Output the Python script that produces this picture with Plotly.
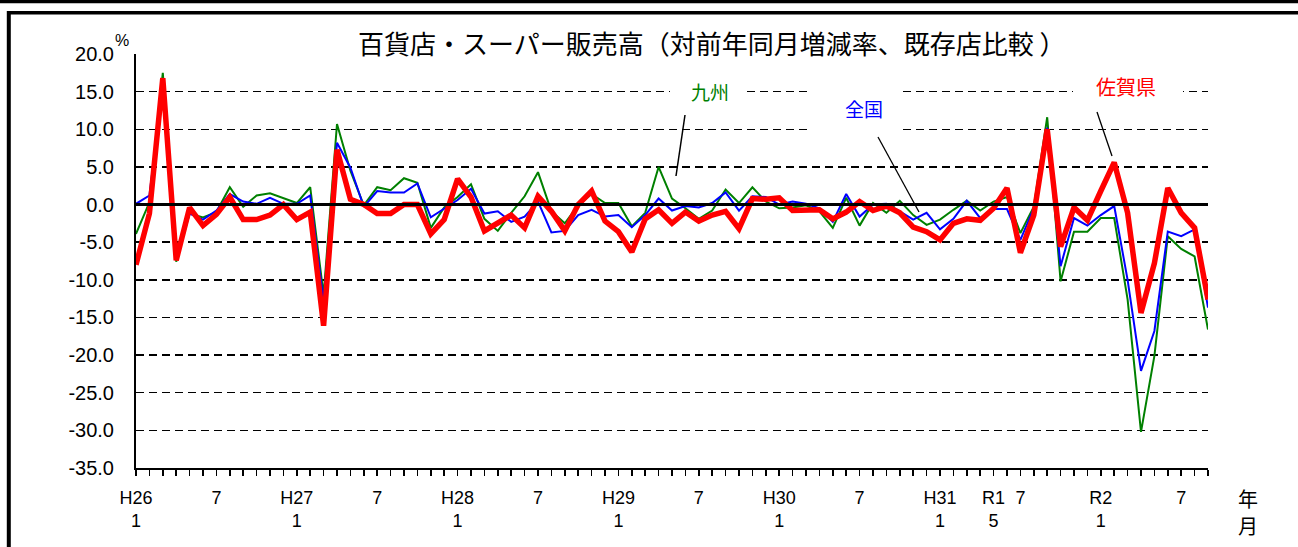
import plotly.graph_objects as go

# ---- data ----
months = list(range(81))  # Jan H26 (2014) .. Sep R2 (2020)

saga = [-8.0, -1.2, 16.8, -7.4, -0.4, -2.8, -1.3, 1.0, -2.0, -2.0, -1.4, 0.0,
        -2.0, -1.0, -16.1, 7.3, 0.7, 0.0, -1.2, -1.2, 0.0, 0.0, -3.9, -2.0,
        3.4, 1.0, -3.5, -2.5, -1.4, -3.1, 1.1, -0.9, -3.5, 0.0, 1.8, -2.2,
        -3.6, -6.3, -1.9, -0.7, -2.5, -1.0, -2.2, -1.4, -0.9, -3.2, 0.8, 0.7,
        0.9, -0.8, -0.8, -0.7, -1.9, -1.0, 0.4, -0.8, -0.2, -1.1, -3.0, -3.6,
        -4.7, -2.5, -1.9, -2.1, -0.5, 2.2, -6.4, -1.4, 10.0, -5.6, -0.4, -2.1,
        1.8, 5.6, -1.1, -14.4, -7.8, 2.2, -1.1, -3.1, -12.6]

zenkoku = [0.1, 1.2, 15.9, -6.7, -1.2, -2.0, -0.8, 1.4, 0.4, 0.1, 0.9, 0.1,
           0.1, 1.2, -12.9, 8.2, 4.9, -0.3, 1.8, 1.6, 1.6, 2.8, -1.7, -0.6,
           0.6, 2.1, -1.2, -0.9, -2.3, -1.6, 0.4, -3.7, -3.5, -1.4, -0.7, -1.6,
           -1.4, -3.0, -1.4, 0.8, -0.8, -0.2, -0.4, 0.2, 1.6, -0.8, 1.1, 1.0,
           0.0, 0.4, 0.1, -0.5, -2.3, 1.4, -1.6, 0.0, 0.1, -0.9, -2.0, -1.1,
           -3.3, -1.9, 0.5, -1.8, -0.6, -0.6, -4.7, -0.5, 10.2, -8.2, -1.8, -2.8,
           -1.4, -0.2, -10.0, -22.1, -16.8, -3.6, -4.2, -3.3, -13.7]

kyushu = [-3.9, 0.3, 17.5, -7.6, -1.2, -1.7, -1.0, 2.3, -0.3, 1.2, 1.5, 0.9,
          0.2, 2.3, -12.0, 10.7, 4.5, -0.1, 2.3, 1.9, 3.5, 2.9, -3.1, -0.4,
          1.0, 2.7, -1.9, -3.5, -1.1, 1.1, 4.3, -0.9, -2.5, -0.1, 1.4, 0.2,
          0.2, -2.9, -1.1, 5.0, 0.8, -0.5, -1.9, -0.8, 2.0, 0.2, 2.3, 0.4,
          -0.5, -0.4, -0.1, -0.9, -3.1, 0.9, -2.8, 0.2, -1.1, 0.5, -1.4, -2.7,
          -2.0, -0.7, 0.5, -0.8, 0.4, 1.0, -3.8, -0.3, 11.6, -10.2, -3.6, -3.6,
          -1.8, -1.8, -12.6, -30.2, -20.1, -4.2, -5.9, -6.9, -16.6]

x_label_pos = [0, 6, 12, 18, 24, 30, 36, 42, 48, 54, 60, 64, 66, 72, 78]
x_label_txt = ["H26<br>1", "7", "H27<br>1", "7", "H28<br>1", "7", "H29<br>1", "7",
               "H30<br>1", "7", "H31<br>1", "R1<br>5", "7", "R2<br>1", "7"]

y_ticks = [20, 15, 10, 5, 0, -5, -10, -15, -20, -25, -30, -35]
y_tick_txt = ["20.0", "15.0", "10.0", "5.0", "0.0", "-5.0", "-10.0", "-15.0",
              "-20.0", "-25.0", "-30.0", "-35.0"]

title_text = "百貨店・スーパー販売高（対前年同月増減率、既存店比較 ）"

# ---- layout geometry (pixels) ----
W, H = 1298, 547
PL, PR, PT, PB = 136, 1208, 54, 468


def px(x):
    return (x - PL) / (PR - PL)


def py(y):
    return (PB - y) / (PB - PT)


NUM_FONT = "Liberation Sans, Arial, sans-serif"
JP_FONT = "Noto Sans CJK JP, sans-serif"

fig = go.Figure()
fig.add_trace(go.Scatter(x=months, y=kyushu, mode="lines", name="九州",
                         line=dict(color="#008000", width=2)))
fig.add_trace(go.Scatter(x=months, y=zenkoku, mode="lines", name="全国",
                         line=dict(color="#0000FF", width=2)))
fig.add_trace(go.Scatter(x=months, y=saga, mode="lines", name="佐賀県",
                         line=dict(color="#FF0000", width=5.5)))

tick_text_all = []
for m in months:
    if m in x_label_pos:
        tick_text_all.append(x_label_txt[x_label_pos.index(m)])
    else:
        tick_text_all.append("")

fig.update_xaxes(range=[0, 80], tickmode="array", tickvals=months, ticktext=tick_text_all,
                 showgrid=False, zeroline=False, showline=True, linecolor="black", linewidth=2,
                 ticks="outside", ticklen=6, tickwidth=1.5, tickcolor="black",
                 tickfont=dict(family=NUM_FONT, size=18, color="black"),
                 ticklabelstandoff=6, automargin=False)
fig.update_yaxes(range=[-35, 20], tickmode="array", tickvals=y_ticks, ticktext=y_tick_txt,
                 showgrid=True, gridcolor="black", gridwidth=1.5, griddash="8px,5px",
                 zeroline=False, showline=True, linecolor="black", linewidth=2,
                 ticks="", tickfont=dict(family=NUM_FONT, size=20, color="black"),
                 ticklabelstandoff=16, automargin=False)

shapes = [
    # zero reference line
    dict(type="line", xref="x", yref="y", x0=0, x1=80, y0=0, y1=0,
         line=dict(color="black", width=3), layer="above"),
    # outer frame
    dict(type="line", xref="paper", yref="paper", x0=px(0), x1=px(W), y0=py(1.5), y1=py(1.5),
         line=dict(color="black", width=3.5)),
    dict(type="line", xref="paper", yref="paper", x0=px(7), x1=px(W), y0=py(12.7), y1=py(12.7),
         line=dict(color="black", width=3.5)),
    dict(type="line", xref="paper", yref="paper", x0=px(8.8), x1=px(8.8), y0=py(11), y1=py(H),
         line=dict(color="black", width=4)),
    # leader lines
    dict(type="line", xref="paper", yref="paper", x0=px(685), x1=px(676), y0=py(115), y1=py(176),
         line=dict(color="black", width=1.5)),
    dict(type="line", xref="paper", yref="paper", x0=px(878), x1=px(919), y0=py(137), y1=py(212),
         line=dict(color="black", width=1.3)),
    dict(type="line", xref="paper", yref="paper", x0=px(1097), x1=px(1112), y0=py(112), y1=py(156),
         line=dict(color="black", width=1.3)),
]

annotations = []


def white_box(x0, x1, y0, y1):
    annotations.append(dict(xref="paper", yref="paper", x=px((x0 + x1) / 2), y=py((y0 + y1) / 2),
                            xanchor="center", yanchor="middle", text=" ", showarrow=False,
                            width=x1 - x0, height=y1 - y0, bgcolor="white", borderpad=0,
                            borderwidth=0))


white_box(358, 1068, 28, 60)   # title
white_box(670, 745, 80, 104)   # 九州
white_box(808, 898, 84, 136)   # 全国
white_box(1073, 1183, 72, 106) # 佐賀県


def label(x, y, text, size, color, font=JP_FONT):
    annotations.append(dict(xref="paper", yref="paper", x=px(x), y=py(y), xanchor="center",
                            yanchor="middle", text=text, showarrow=False,
                            font=dict(family=font, size=size, color=color)))


label(712, 42, title_text, 26, "black")
label(710, 92, "九州", 19, "#008000")
label(864, 108, "全国", 19, "#0000FF")
label(1126, 86, "佐賀県", 20, "#FF0000")
label(122, 40, "%", 16, "black", NUM_FONT)
label(1248, 498, "年", 20, "black")
label(1248, 525, "月", 20, "black")

fig.update_layout(width=W, height=H, margin=dict(l=PL, r=W - PR, t=PT, b=H - PB, autoexpand=False),
                  paper_bgcolor="white", plot_bgcolor="white", showlegend=False,
                  shapes=shapes, annotations=annotations, hovermode=False)

fig.write_html("out.html", config={"displayModeBar": False, "staticPlot": True},
               post_script="document.body.style.margin='0px';document.body.style.overflow='hidden';")
